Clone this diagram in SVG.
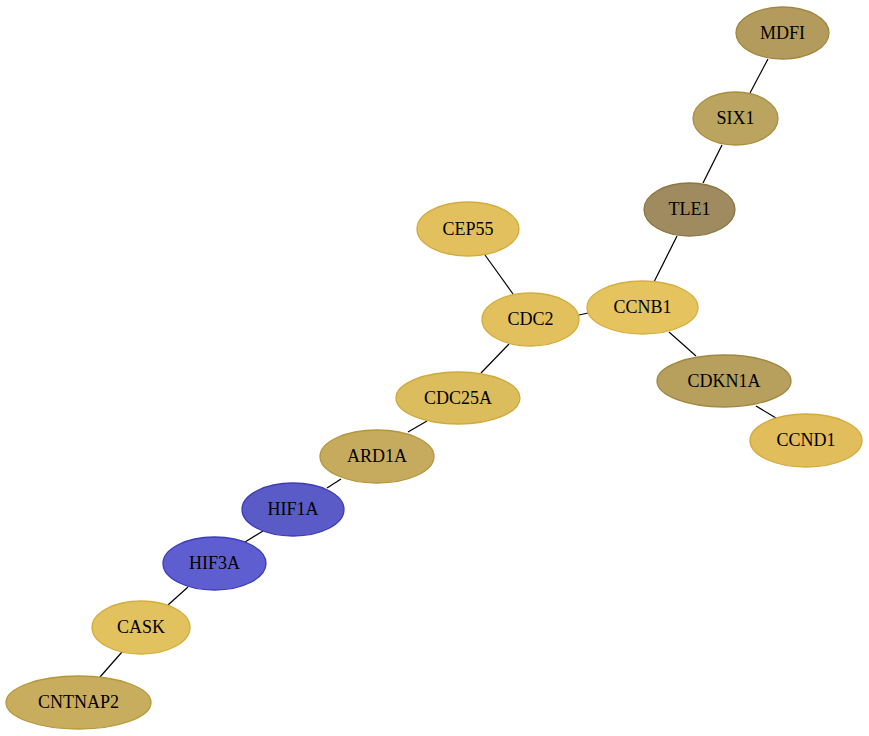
<svg xmlns="http://www.w3.org/2000/svg" width="869" height="736" viewBox="0 0 869 736">
<style>
.n text{font-family:"Liberation Serif","Times New Roman",serif;font-size:18px;text-anchor:middle;fill:#000}
.n ellipse{stroke-width:1.3}
.e line{stroke:#000;stroke-width:1.2}
</style>
<rect width="869" height="736" fill="#fff"/>
<g id="edges" class="e">
<line x1="768" y1="59" x2="750" y2="93"/>
<line x1="722" y1="145" x2="703" y2="183"/>
<line x1="677" y1="236" x2="654" y2="282"/>
<line x1="485" y1="255" x2="513" y2="294"/>
<line x1="579" y1="315" x2="588" y2="313"/>
<line x1="669" y1="332" x2="696" y2="356"/>
<line x1="756" y1="406" x2="776" y2="418"/>
<line x1="509" y1="344" x2="481" y2="373"/>
<line x1="427" y1="421" x2="408" y2="432"/>
<line x1="341" y1="479" x2="327" y2="488"/>
<line x1="263" y1="531" x2="245" y2="542"/>
<line x1="188" y1="587" x2="168" y2="605"/>
<line x1="122" y1="652" x2="100" y2="677"/>
</g>
<g id="MDFI" class="n"><ellipse cx="782.5" cy="33" rx="46.5" ry="26" fill="#b39b5d" stroke="#a08840"/><text x="782.5" y="38.5">MDFI</text></g>
<g id="SIX1" class="n"><ellipse cx="735.5" cy="118.5" rx="42.5" ry="26.5" fill="#bba45f" stroke="#a8903f"/><text x="735.5" y="124">SIX1</text></g>
<g id="TLE1" class="n"><ellipse cx="689.5" cy="209.5" rx="45.5" ry="26.5" fill="#9f8b5f" stroke="#8a7640"/><text x="689.5" y="215">TLE1</text></g>
<g id="CEP55" class="n"><ellipse cx="468" cy="229" rx="51" ry="27" fill="#e2c05e" stroke="#d4ac3c"/><text x="468" y="234.5">CEP55</text></g>
<g id="CDC2" class="n"><ellipse cx="530.5" cy="319.5" rx="48.5" ry="26.5" fill="#e2c05e" stroke="#d4ac3c"/><text x="530.5" y="325">CDC2</text></g>
<g id="CCNB1" class="n"><ellipse cx="642.5" cy="307.5" rx="55.5" ry="26.5" fill="#e5c35f" stroke="#d6b03c"/><text x="642.5" y="313">CCNB1</text></g>
<g id="CDKN1A" class="n"><ellipse cx="724" cy="381" rx="67" ry="26" fill="#b79f5e" stroke="#a08840"/><text x="724" y="386.5">CDKN1A</text></g>
<g id="CCND1" class="n"><ellipse cx="806" cy="440.5" rx="56" ry="26.5" fill="#e1bd5b" stroke="#d4aa3a"/><text x="806" y="446">CCND1</text></g>
<g id="CDC25A" class="n"><ellipse cx="458" cy="398" rx="62" ry="26" fill="#dcbd5e" stroke="#cfa93c"/><text x="458" y="403.5">CDC25A</text></g>
<g id="ARD1A" class="n"><ellipse cx="377" cy="456.5" rx="57" ry="26.5" fill="#c6ab5e" stroke="#b3963c"/><text x="377" y="462">ARD1A</text></g>
<g id="HIF1A" class="n"><ellipse cx="293" cy="509.5" rx="51" ry="26.5" fill="#5b5bc8" stroke="#3c3cb8"/><text x="293" y="515">HIF1A</text></g>
<g id="HIF3A" class="n"><ellipse cx="214.5" cy="563.5" rx="51.5" ry="26.5" fill="#5e5ed0" stroke="#3c3cc0"/><text x="214.5" y="569">HIF3A</text></g>
<g id="CASK" class="n"><ellipse cx="141" cy="627.5" rx="49" ry="26.5" fill="#e2c25e" stroke="#d4ae3c"/><text x="141" y="633">CASK</text></g>
<g id="CNTNAP2" class="n"><ellipse cx="78.5" cy="702.5" rx="72.5" ry="26.5" fill="#c8ad5e" stroke="#b5983c"/><text x="78.5" y="708">CNTNAP2</text></g>
</svg>
